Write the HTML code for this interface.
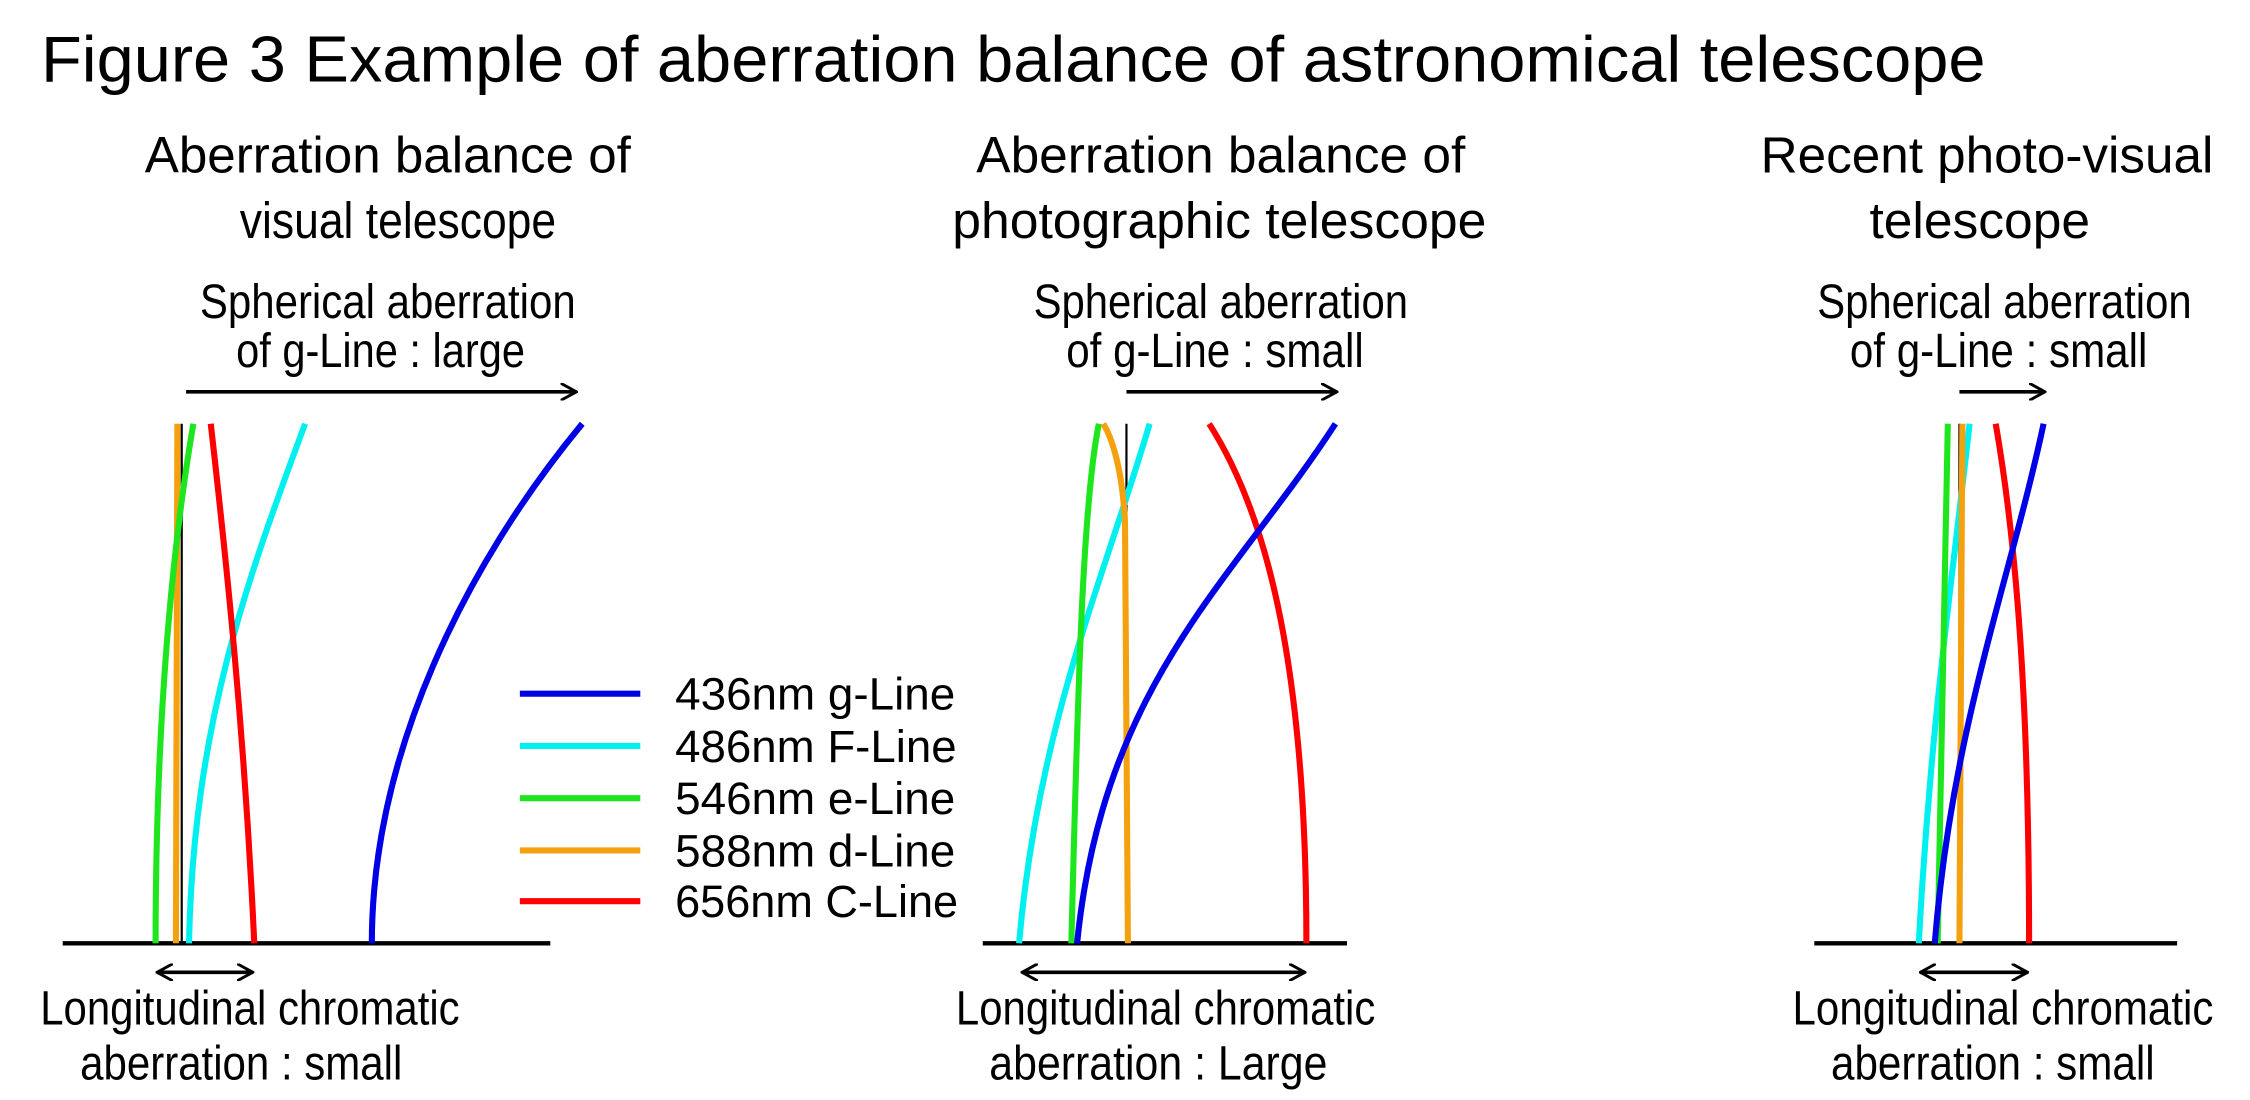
<!DOCTYPE html>
<html><head><style>html,body{margin:0;padding:0;background:#fff}svg{display:block}text{font-family:"Liberation Sans",Arial,sans-serif;fill:#000}</style></head>
<body>
<svg width="2250" height="1100" viewBox="0 0 1550 758" xmlns="http://www.w3.org/2000/svg">
<defs><marker id="ah" markerWidth="12" markerHeight="12" refX="11" refY="6" orient="auto-start-reverse" markerUnits="userSpaceOnUse"><path d="M0,0 L11,6 L0,12" fill="none" stroke="#000" stroke-width="2"/></marker></defs>
<text x="28" y="56" font-size="45" textLength="1340" lengthAdjust="spacingAndGlyphs">Figure  3  Example of aberration balance of astronomical telescope</text>
<g font-size="35" text-anchor="middle">
<text x="267" y="119" textLength="335" lengthAdjust="spacingAndGlyphs">Aberration balance of</text>
<text x="274" y="164" textLength="218" lengthAdjust="spacingAndGlyphs">visual telescope</text>
<text x="841" y="119" textLength="337" lengthAdjust="spacingAndGlyphs">Aberration balance of</text>
<text x="840" y="164" textLength="368" lengthAdjust="spacingAndGlyphs">photographic telescope</text>
<text x="1369" y="119" textLength="312" lengthAdjust="spacingAndGlyphs">Recent photo-visual</text>
<text x="1364" y="164" textLength="152" lengthAdjust="spacingAndGlyphs">telescope</text>
</g>
<g font-size="33" text-anchor="middle">
<text x="267" y="219" textLength="259" lengthAdjust="spacingAndGlyphs">Spherical aberration</text>
<text x="262" y="253" textLength="199" lengthAdjust="spacingAndGlyphs">of g-Line : large</text>
<text x="841" y="219" textLength="258" lengthAdjust="spacingAndGlyphs">Spherical aberration</text>
<text x="837" y="253" textLength="205" lengthAdjust="spacingAndGlyphs">of g-Line : small</text>
<text x="1381" y="219" textLength="258" lengthAdjust="spacingAndGlyphs">Spherical aberration</text>
<text x="1377" y="253" textLength="205" lengthAdjust="spacingAndGlyphs">of g-Line : small</text>
<text x="172" y="706" textLength="289" lengthAdjust="spacingAndGlyphs">Longitudinal chromatic</text>
<text x="166" y="744" textLength="222" lengthAdjust="spacingAndGlyphs">aberration : small</text>
<text x="803" y="706" textLength="289" lengthAdjust="spacingAndGlyphs">Longitudinal chromatic</text>
<text x="798" y="744" textLength="233" lengthAdjust="spacingAndGlyphs">aberration : Large</text>
<text x="1380" y="706" textLength="290" lengthAdjust="spacingAndGlyphs">Longitudinal chromatic</text>
<text x="1373" y="744" textLength="223" lengthAdjust="spacingAndGlyphs">aberration : small</text>
</g>
<g stroke="#000" stroke-width="2.5" fill="none">
<line x1="128" y1="270" x2="397" y2="270" marker-end="url(#ah)"/>
<line x1="776" y1="270" x2="921" y2="270" marker-end="url(#ah)"/>
<line x1="1350" y1="270" x2="1409" y2="270" marker-end="url(#ah)"/>
<line x1="108" y1="670" x2="174" y2="670" marker-start="url(#ah)" marker-end="url(#ah)"/>
<line x1="704" y1="670" x2="899" y2="670" marker-start="url(#ah)" marker-end="url(#ah)"/>
<line x1="1323" y1="670" x2="1397" y2="670" marker-start="url(#ah)" marker-end="url(#ah)"/>
<line x1="43" y1="650" x2="379" y2="650" stroke-width="3"/>
<line x1="677" y1="650" x2="928" y2="650" stroke-width="3"/>
<line x1="1250" y1="650" x2="1500" y2="650" stroke-width="3"/>
<line x1="125" y1="292" x2="125" y2="650" stroke-width="1.5"/>
<line x1="776" y1="292" x2="776" y2="650" stroke-width="1.5"/>
<line x1="1350" y1="292" x2="1350" y2="650" stroke-width="1.5"/>
</g>
<g fill="none" stroke-width="4.2">
<path d="M121,650 L122,292" stroke="#f5a00f"/>
<path d="M107,650 C107,500 118,380 133,292" stroke="#1ee61e"/>
<path d="M130,650 C133,500 170,400 210,292" stroke="#00f0f0"/>
<path d="M175,650 C168,500 155,380 145,292" stroke="#ff0000"/>
<path d="M256,650 C256,520 320,390 401,292" stroke="#0000e6"/>

<path d="M702,650 C715,500 760,400 792,292" stroke="#00f0f0"/>
<path d="M738,650 C742,500 745,350 757,292" stroke="#1ee61e"/>
<path d="M777,650 L775,360 C773,320 765,300 760,292" stroke="#f5a00f"/>
<path d="M900,650 C900,450 870,350 833,292" stroke="#ff0000"/>
<path d="M742,650 C760,470 850,400 920,292" stroke="#0000e6"/>

<path d="M1322,650 C1330,500 1345,400 1357,292" stroke="#00f0f0"/>
<path d="M1335,650 C1337,500 1340,400 1342,292" stroke="#1ee61e"/>
<path d="M1350,650 L1352,292" stroke="#f5a00f"/>
<path d="M1398,650 C1398,450 1385,350 1375,292" stroke="#ff0000"/>
<path d="M1333,650 C1345,500 1385,400 1408,292" stroke="#0000e6"/>

<line x1="358" y1="478" x2="441" y2="478" stroke="#0000e6"/>
<line x1="358" y1="514" x2="441" y2="514" stroke="#00f0f0"/>
<line x1="358" y1="550" x2="441" y2="550" stroke="#1ee61e"/>
<line x1="358" y1="586" x2="441" y2="586" stroke="#f5a00f"/>
<line x1="358" y1="621" x2="441" y2="621" stroke="#ff0000"/>
</g>
<g font-size="31" xml:space="preserve">
<text x="465" y="489" textLength="193" lengthAdjust="spacingAndGlyphs">436nm  g-Line</text>
<text x="465" y="525" textLength="194" lengthAdjust="spacingAndGlyphs">486nm  F-Line</text>
<text x="465" y="561" textLength="193" lengthAdjust="spacingAndGlyphs">546nm  e-Line</text>
<text x="465" y="597" textLength="193" lengthAdjust="spacingAndGlyphs">588nm  d-Line</text>
<text x="465" y="632" textLength="195" lengthAdjust="spacingAndGlyphs">656nm  C-Line</text>
</g>
</svg>
</body></html>
